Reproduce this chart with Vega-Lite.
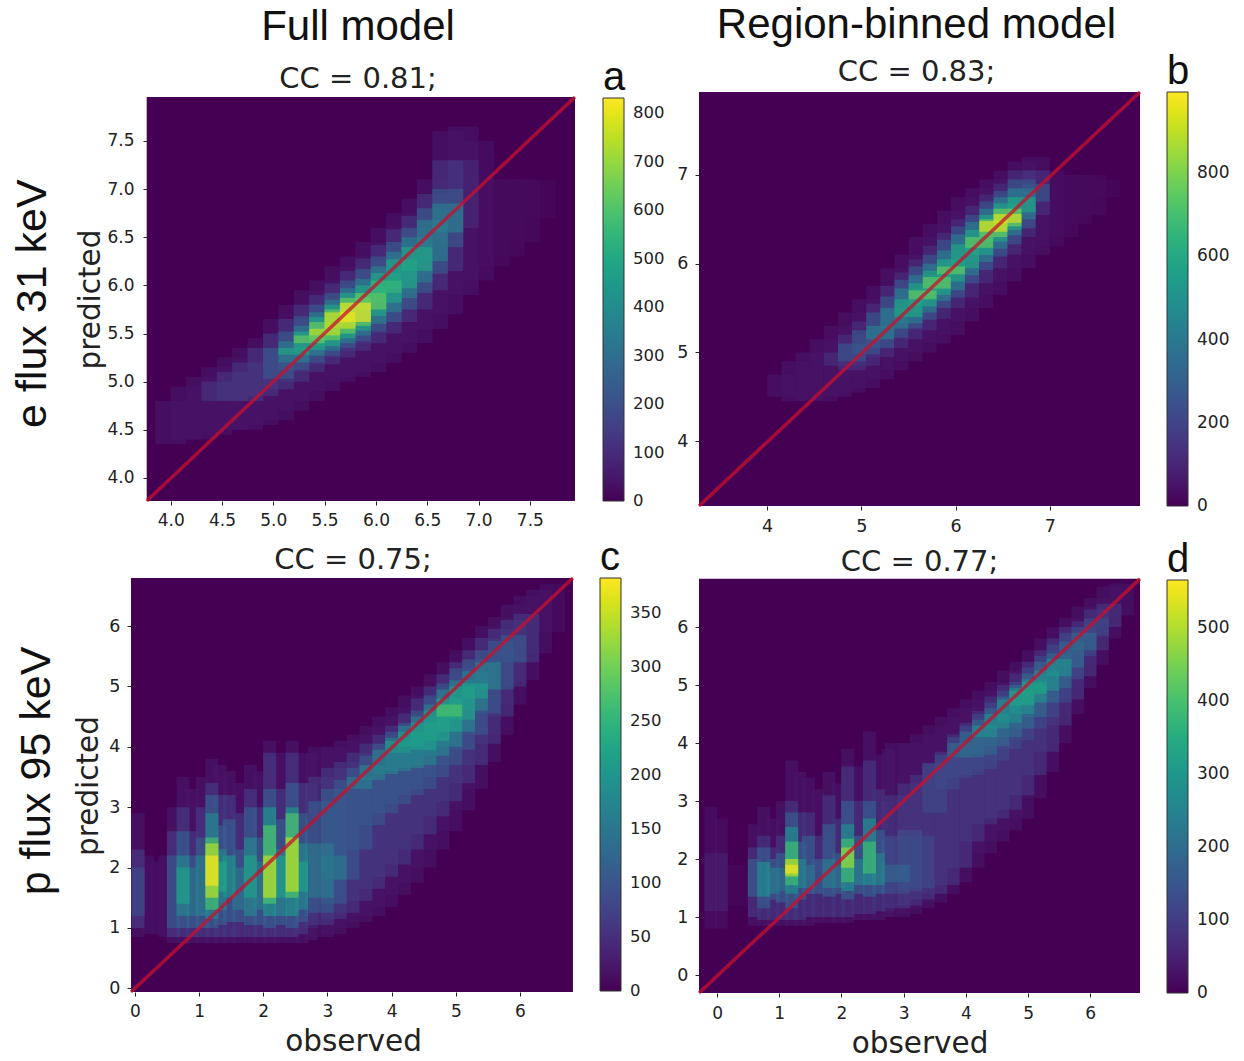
{"$schema":"https://vega.github.io/schema/vega-lite/v6.json","autosize":{"type":"none"},"padding":{"left":131,"top":92,"right":1113,"bottom":969},"background":"white","bounds":"flush","columns":2,"spacing":{"column":124,"row":72},"resolve":{"scale":{"color":"independent","x":"independent","y":"independent"}},"config":{"view":{"stroke":null},"font":"DejaVu Sans","axis":{"grid":false,"domain":false,"tickColor":"#222","tickSize":4,"labelColor":"#222","titleColor":"#222","labelFont":"DejaVu Sans","titleFont":"DejaVu Sans","titleFontWeight":"normal","titleFontSize":29.5,"labelOverlap":false},"legend":{"labelFont":"DejaVu Sans","labelColor":"#222","titleFont":"Liberation Sans","titleFontWeight":"normal","titleColor":"#111","titleFontSize":40,"titlePadding":0,"gradientStrokeColor":"#333","gradientStrokeWidth":1,"gradientThickness":21,"labelOverlap":false,"orient":"none"},"title":{"font":"Liberation Sans","fontWeight":"normal","color":"#111","subtitleFont":"DejaVu Sans","subtitleColor":"#222","anchor":"middle"}},"datasets":{
"a":[
{"x":4.0,"y":4.35,"t":4.8,"v":45},{"x":4.15,"y":4.4,"t":4.95,"v":45},{"x":4.3,"y":4.4,"t":5.05,"v":45},{"x":4.45,"y":4.45,"t":5.15,"v":45},{"x":4.6,"y":4.5,"t":5.25,"v":45},{"x":4.75,"y":4.5,"t":5.35,"v":45},{"x":4.9,"y":4.55,"t":5.45,"v":45},{"x":5.05,"y":4.6,"t":5.65,"v":45},{"x":5.2,"y":4.7,"t":5.8,"v":45},{"x":5.35,"y":4.8,"t":5.95,"v":45},{"x":5.5,"y":4.9,"t":6.05,"v":45},{"x":5.65,"y":5.0,"t":6.2,"v":45},{"x":5.8,"y":5.05,"t":6.3,"v":45},{"x":5.95,"y":5.1,"t":6.45,"v":45},{"x":6.1,"y":5.2,"t":6.6,"v":45},{"x":6.25,"y":5.3,"t":6.75,"v":45},{"x":6.4,"y":5.4,"t":6.9,"v":45},{"x":6.55,"y":5.55,"t":7.1,"v":45},{"x":6.7,"y":5.7,"t":7.6,"v":45},{"x":6.85,"y":5.9,"t":7.65,"v":45},{"x":7.0,"y":6.05,"t":7.5,"v":35},{"x":7.15,"y":6.2,"t":7.1,"v":25},{"x":7.3,"y":6.3,"t":7.1,"v":25},{"x":7.45,"y":6.45,"t":7.1,"v":25},{"x":7.6,"y":6.7,"t":7.1,"v":15},
{"x":4.45,"y":4.8,"t":5.0,"v":125},{"x":4.6,"y":4.8,"t":5.1,"v":125},{"x":4.75,"y":4.8,"t":5.2,"v":125},{"x":4.9,"y":4.85,"t":5.35,"v":125},{"x":5.05,"y":4.92,"t":5.5,"v":125},{"x":5.2,"y":5.0,"t":5.65,"v":125},{"x":5.35,"y":5.1,"t":5.8,"v":125},{"x":5.5,"y":5.18,"t":5.9,"v":125},{"x":5.65,"y":5.25,"t":6.02,"v":125},{"x":5.8,"y":5.32,"t":6.15,"v":125},{"x":5.95,"y":5.4,"t":6.28,"v":125},{"x":6.1,"y":5.5,"t":6.42,"v":125},{"x":6.25,"y":5.62,"t":6.58,"v":125},{"x":6.4,"y":5.75,"t":6.72,"v":125},{"x":6.55,"y":5.95,"t":6.95,"v":125},{"x":6.7,"y":6.15,"t":7.3,"v":125},{"x":6.85,"y":6.6,"t":7.3,"v":100},
{"x":5.05,"y":5.03,"t":5.35,"v":230},{"x":5.2,"y":5.12,"t":5.52,"v":230},{"x":5.35,"y":5.2,"t":5.68,"v":230},{"x":5.5,"y":5.27,"t":5.8,"v":230},{"x":5.65,"y":5.35,"t":5.92,"v":230},{"x":5.8,"y":5.42,"t":6.05,"v":230},{"x":5.95,"y":5.52,"t":6.17,"v":230},{"x":6.1,"y":5.62,"t":6.3,"v":230},{"x":6.25,"y":5.75,"t":6.45,"v":230},{"x":6.4,"y":5.92,"t":6.6,"v":230},{"x":6.55,"y":6.12,"t":6.8,"v":230},{"x":6.7,"y":6.4,"t":7.0,"v":230},
{"x":5.2,"y":5.2,"t":5.42,"v":350},{"x":5.35,"y":5.27,"t":5.58,"v":350},{"x":5.5,"y":5.32,"t":5.72,"v":350},{"x":5.65,"y":5.4,"t":5.85,"v":350},{"x":5.8,"y":5.48,"t":5.97,"v":350},{"x":5.95,"y":5.6,"t":6.07,"v":350},{"x":6.1,"y":5.72,"t":6.2,"v":350},{"x":6.25,"y":5.87,"t":6.35,"v":350},{"x":6.4,"y":6.03,"t":6.5,"v":350},{"x":6.55,"y":6.25,"t":6.68,"v":350},{"x":6.7,"y":6.55,"t":6.85,"v":350},
{"x":5.2,"y":5.28,"t":5.35,"v":490},{"x":5.35,"y":5.33,"t":5.52,"v":490},{"x":5.5,"y":5.37,"t":5.67,"v":490},{"x":5.65,"y":5.45,"t":5.8,"v":490},{"x":5.8,"y":5.53,"t":5.92,"v":490},{"x":5.95,"y":5.68,"t":6.0,"v":490},{"x":6.1,"y":5.82,"t":6.13,"v":490},{"x":6.25,"y":5.97,"t":6.27,"v":490},{"x":6.4,"y":6.15,"t":6.4,"v":490},
{"x":5.35,"y":5.4,"t":5.48,"v":640},{"x":5.5,"y":5.43,"t":5.62,"v":640},{"x":5.65,"y":5.5,"t":5.75,"v":640},{"x":5.8,"y":5.58,"t":5.87,"v":640},{"x":5.95,"y":5.75,"t":5.92,"v":640},{"x":6.1,"y":5.92,"t":6.05,"v":560},
{"x":5.5,"y":5.48,"t":5.55,"v":750},{"x":5.65,"y":5.55,"t":5.72,"v":780},{"x":5.8,"y":5.62,"t":5.82,"v":820}],
"b":[
{"x":4.15,"y":4.5,"t":4.75,"v":50},{"x":4.3,"y":4.45,"t":4.9,"v":50},{"x":4.45,"y":4.45,"t":5.0,"v":50},{"x":4.6,"y":4.45,"t":5.15,"v":50},{"x":4.75,"y":4.5,"t":5.3,"v":50},{"x":4.9,"y":4.55,"t":5.45,"v":50},{"x":5.05,"y":4.6,"t":5.6,"v":50},{"x":5.2,"y":4.7,"t":5.75,"v":50},{"x":5.35,"y":4.8,"t":5.95,"v":50},{"x":5.5,"y":4.9,"t":6.1,"v":50},{"x":5.65,"y":5.0,"t":6.3,"v":50},{"x":5.8,"y":5.1,"t":6.45,"v":50},{"x":5.95,"y":5.2,"t":6.6,"v":50},{"x":6.1,"y":5.35,"t":6.75,"v":50},{"x":6.25,"y":5.5,"t":6.85,"v":50},{"x":6.4,"y":5.65,"t":6.95,"v":50},{"x":6.55,"y":5.8,"t":7.05,"v":50},{"x":6.7,"y":5.95,"t":7.15,"v":50},{"x":6.85,"y":6.1,"t":7.2,"v":50},{"x":7.0,"y":6.2,"t":7.05,"v":35},{"x":7.15,"y":6.3,"t":7.0,"v":28},{"x":7.3,"y":6.45,"t":7.0,"v":28},{"x":7.45,"y":6.55,"t":7.0,"v":28},{"x":7.6,"y":6.75,"t":6.95,"v":18},
{"x":4.75,"y":4.85,"t":5.0,"v":140},{"x":4.9,"y":4.8,"t":5.2,"v":140},{"x":5.05,"y":4.85,"t":5.35,"v":140},{"x":5.2,"y":4.95,"t":5.55,"v":140},{"x":5.35,"y":5.05,"t":5.75,"v":140},{"x":5.5,"y":5.15,"t":5.9,"v":140},{"x":5.65,"y":5.25,"t":6.05,"v":140},{"x":5.8,"y":5.38,"t":6.2,"v":140},{"x":5.95,"y":5.5,"t":6.35,"v":140},{"x":6.1,"y":5.62,"t":6.5,"v":140},{"x":6.25,"y":5.78,"t":6.65,"v":140},{"x":6.4,"y":5.95,"t":6.78,"v":140},{"x":6.55,"y":6.1,"t":6.9,"v":140},{"x":6.7,"y":6.3,"t":7.05,"v":140},{"x":6.85,"y":6.55,"t":7.05,"v":140},
{"x":4.9,"y":4.9,"t":5.1,"v":270},{"x":5.05,"y":4.98,"t":5.25,"v":270},{"x":5.2,"y":5.05,"t":5.45,"v":270},{"x":5.35,"y":5.17,"t":5.63,"v":270},{"x":5.5,"y":5.27,"t":5.82,"v":270},{"x":5.65,"y":5.37,"t":5.97,"v":270},{"x":5.8,"y":5.5,"t":6.1,"v":270},{"x":5.95,"y":5.62,"t":6.27,"v":270},{"x":6.1,"y":5.78,"t":6.42,"v":270},{"x":6.25,"y":5.93,"t":6.55,"v":270},{"x":6.4,"y":6.08,"t":6.7,"v":270},{"x":6.55,"y":6.22,"t":6.82,"v":270},{"x":6.7,"y":6.4,"t":6.95,"v":270},{"x":6.85,"y":6.7,"t":6.9,"v":270},
{"x":5.2,"y":5.15,"t":5.3,"v":420},{"x":5.35,"y":5.27,"t":5.5,"v":420},{"x":5.5,"y":5.33,"t":5.72,"v":420},{"x":5.65,"y":5.45,"t":5.87,"v":420},{"x":5.8,"y":5.58,"t":6.0,"v":420},{"x":5.95,"y":5.7,"t":6.15,"v":420},{"x":6.1,"y":5.87,"t":6.33,"v":420},{"x":6.25,"y":6.02,"t":6.47,"v":420},{"x":6.4,"y":6.17,"t":6.62,"v":420},{"x":6.55,"y":6.32,"t":6.75,"v":420},{"x":6.7,"y":6.5,"t":6.85,"v":420},
{"x":5.5,"y":5.4,"t":5.6,"v":590},{"x":5.65,"y":5.52,"t":5.78,"v":590},{"x":5.8,"y":5.65,"t":5.92,"v":590},{"x":5.95,"y":5.8,"t":6.05,"v":590},{"x":6.1,"y":5.95,"t":6.22,"v":590},{"x":6.25,"y":6.1,"t":6.38,"v":590},{"x":6.4,"y":6.25,"t":6.55,"v":590},{"x":6.55,"y":6.38,"t":6.68,"v":590},{"x":6.7,"y":6.58,"t":6.75,"v":590},
{"x":5.65,"y":5.6,"t":5.7,"v":760},{"x":5.8,"y":5.72,"t":5.85,"v":760},{"x":5.95,"y":5.88,"t":5.97,"v":760},{"x":6.25,"y":6.18,"t":6.3,"v":760},{"x":6.4,"y":6.3,"t":6.5,"v":780},{"x":6.55,"y":6.42,"t":6.62,"v":780},
{"x":6.4,"y":6.36,"t":6.48,"v":950},{"x":6.55,"y":6.46,"t":6.56,"v":950}],
"cl":[
{"x":0.05,"y":0.85,"t":2.9,"v":20},{"x":0.05,"y":1.0,"t":2.3,"v":60},{"x":0.05,"y":1.2,"t":2.0,"v":85},{"x":0.2,"y":0.9,"t":2.2,"v":18},{"x":0.35,"y":0.9,"t":2.1,"v":18},{"x":0.47,"y":0.85,"t":2.2,"v":18},
{"x":0.6,"y":0.75,"t":3.0,"v":20},{"x":0.6,"y":0.85,"t":2.6,"v":60},{"x":0.6,"y":1.0,"t":2.2,"v":100},
{"x":0.75,"y":0.75,"t":3.5,"v":20},{"x":0.75,"y":0.85,"t":3.0,"v":60},{"x":0.75,"y":1.0,"t":2.6,"v":110},{"x":0.75,"y":1.2,"t":2.2,"v":170},{"x":0.75,"y":1.4,"t":2.0,"v":215},
{"x":0.9,"y":0.75,"t":3.3,"v":20},{"x":0.9,"y":0.85,"t":2.6,"v":60},{"x":0.9,"y":1.0,"t":2.2,"v":110},{"x":0.9,"y":1.2,"t":2.0,"v":145},
{"x":1.05,"y":0.75,"t":3.5,"v":20},{"x":1.05,"y":0.85,"t":3.0,"v":60},{"x":1.05,"y":1.0,"t":2.5,"v":110},{"x":1.05,"y":1.2,"t":2.2,"v":160},
{"x":1.2,"y":0.75,"t":3.8,"v":20},{"x":1.2,"y":0.85,"t":3.4,"v":60},{"x":1.2,"y":1.0,"t":3.2,"v":110},{"x":1.2,"y":1.15,"t":2.9,"v":170},{"x":1.2,"y":1.3,"t":2.5,"v":270},{"x":1.2,"y":1.5,"t":2.4,"v":340},{"x":1.2,"y":1.7,"t":2.2,"v":375},
{"x":1.33,"y":0.75,"t":3.7,"v":20},{"x":1.33,"y":0.85,"t":3.2,"v":60},{"x":1.33,"y":1.05,"t":2.7,"v":110},{"x":1.33,"y":1.3,"t":2.3,"v":170},{"x":1.33,"y":1.6,"t":2.1,"v":225},
{"x":1.47,"y":0.75,"t":3.6,"v":20},{"x":1.47,"y":0.85,"t":3.2,"v":60},{"x":1.47,"y":1.1,"t":2.8,"v":110},{"x":1.47,"y":1.5,"t":2.2,"v":195},
{"x":1.62,"y":0.75,"t":3.4,"v":20},{"x":1.62,"y":0.85,"t":2.9,"v":60},{"x":1.62,"y":1.1,"t":2.3,"v":110},{"x":1.62,"y":1.3,"t":2.0,"v":145},
{"x":1.8,"y":0.75,"t":3.7,"v":20},{"x":1.8,"y":0.85,"t":3.3,"v":60},{"x":1.8,"y":1.05,"t":3.0,"v":110},{"x":1.8,"y":1.2,"t":2.5,"v":170},{"x":1.8,"y":1.5,"t":2.2,"v":215},
{"x":1.95,"y":0.75,"t":3.6,"v":20},{"x":1.95,"y":0.85,"t":3.0,"v":60},{"x":1.95,"y":1.05,"t":2.5,"v":110},{"x":1.95,"y":1.3,"t":2.1,"v":155},
{"x":2.1,"y":0.75,"t":4.1,"v":20},{"x":2.1,"y":0.85,"t":3.9,"v":60},{"x":2.1,"y":1.0,"t":3.3,"v":110},{"x":2.1,"y":1.2,"t":3.0,"v":195},{"x":2.1,"y":1.4,"t":2.7,"v":275},{"x":2.1,"y":1.5,"t":2.2,"v":345},
{"x":2.27,"y":0.75,"t":3.9,"v":20},{"x":2.27,"y":0.85,"t":3.3,"v":60},{"x":2.27,"y":1.05,"t":2.8,"v":110},{"x":2.27,"y":1.2,"t":2.3,"v":170},{"x":2.27,"y":1.5,"t":2.2,"v":215},
{"x":2.45,"y":0.75,"t":4.1,"v":20},{"x":2.45,"y":0.85,"t":3.9,"v":60},{"x":2.45,"y":1.0,"t":3.4,"v":110},{"x":2.45,"y":1.2,"t":3.0,"v":195},{"x":2.45,"y":1.5,"t":2.9,"v":275},{"x":2.45,"y":1.6,"t":2.5,"v":345},
{"x":2.6,"y":0.75,"t":3.9,"v":20},{"x":2.6,"y":0.9,"t":3.4,"v":60},{"x":2.6,"y":1.1,"t":2.9,"v":110},{"x":2.6,"y":1.3,"t":2.4,"v":170},{"x":2.6,"y":1.6,"t":2.1,"v":215},
{"x":2.75,"y":0.8,"t":3.9,"v":20},{"x":2.75,"y":1.0,"t":3.4,"v":60},{"x":2.75,"y":1.2,"t":2.8,"v":110},{"x":2.75,"y":1.4,"t":2.3,"v":155}],
"cr":[
{"x":2.9,"y":0.85,"t":4.0,"v":20},{"x":2.9,"y":1.05,"t":3.5,"v":60},{"x":2.9,"y":1.25,"t":3.1,"v":110},{"x":2.9,"y":1.5,"t":2.4,"v":155},
{"x":3.1,"y":0.9,"t":4.0,"v":20},{"x":3.1,"y":1.15,"t":3.65,"v":60},{"x":3.1,"y":1.4,"t":3.3,"v":110},{"x":3.1,"y":1.8,"t":2.2,"v":150},
{"x":3.3,"y":1.0,"t":4.1,"v":20},{"x":3.3,"y":1.25,"t":3.75,"v":60},{"x":3.3,"y":1.8,"t":3.45,"v":105},
{"x":3.5,"y":1.1,"t":4.2,"v":20},{"x":3.5,"y":1.45,"t":3.9,"v":60},{"x":3.5,"y":2.3,"t":3.65,"v":105},{"x":3.5,"y":3.3,"t":3.5,"v":160},
{"x":3.7,"y":1.2,"t":4.35,"v":20},{"x":3.7,"y":1.65,"t":4.05,"v":60},{"x":3.7,"y":2.7,"t":3.85,"v":105},{"x":3.7,"y":3.45,"t":3.7,"v":165},
{"x":3.9,"y":1.35,"t":4.5,"v":20},{"x":3.9,"y":1.85,"t":4.2,"v":60},{"x":3.9,"y":2.9,"t":4.05,"v":105},{"x":3.9,"y":3.55,"t":3.95,"v":165},
{"x":4.1,"y":1.55,"t":4.65,"v":20},{"x":4.1,"y":2.05,"t":4.35,"v":60},{"x":4.1,"y":3.05,"t":4.25,"v":105},{"x":4.1,"y":3.6,"t":4.15,"v":165},{"x":4.1,"y":3.9,"t":4.1,"v":205},
{"x":4.3,"y":1.75,"t":4.85,"v":20},{"x":4.3,"y":2.3,"t":4.55,"v":60},{"x":4.3,"y":3.2,"t":4.4,"v":105},{"x":4.3,"y":3.65,"t":4.35,"v":165},{"x":4.3,"y":4.0,"t":4.25,"v":215},
{"x":4.5,"y":2.0,"t":5.0,"v":20},{"x":4.5,"y":2.55,"t":4.8,"v":60},{"x":4.5,"y":3.3,"t":4.6,"v":105},{"x":4.5,"y":3.7,"t":4.5,"v":165},{"x":4.5,"y":3.95,"t":4.4,"v":215},
{"x":4.7,"y":2.3,"t":5.2,"v":20},{"x":4.7,"y":2.85,"t":5.0,"v":60},{"x":4.7,"y":3.5,"t":4.85,"v":105},{"x":4.7,"y":3.85,"t":4.7,"v":165},{"x":4.7,"y":4.1,"t":4.6,"v":220},
{"x":4.9,"y":2.6,"t":5.4,"v":20},{"x":4.9,"y":3.1,"t":5.2,"v":60},{"x":4.9,"y":3.7,"t":5.05,"v":105},{"x":4.9,"y":4.0,"t":4.95,"v":165},{"x":4.9,"y":4.25,"t":4.8,"v":220},{"x":4.9,"y":4.5,"t":4.7,"v":275},
{"x":5.1,"y":2.95,"t":5.6,"v":20},{"x":5.1,"y":3.4,"t":5.4,"v":60},{"x":5.1,"y":3.95,"t":5.3,"v":105},{"x":5.1,"y":4.25,"t":5.1,"v":165},{"x":5.1,"y":4.45,"t":5.0,"v":220},
{"x":5.3,"y":3.3,"t":5.8,"v":20},{"x":5.3,"y":3.7,"t":5.6,"v":60},{"x":5.3,"y":4.2,"t":5.45,"v":105},{"x":5.3,"y":4.6,"t":5.25,"v":165},{"x":5.3,"y":4.8,"t":5.05,"v":215},
{"x":5.5,"y":3.75,"t":6.0,"v":20},{"x":5.5,"y":4.05,"t":5.8,"v":60},{"x":5.5,"y":4.55,"t":5.6,"v":105},{"x":5.5,"y":4.95,"t":5.4,"v":165},
{"x":5.7,"y":4.2,"t":6.15,"v":20},{"x":5.7,"y":4.5,"t":5.95,"v":60},{"x":5.7,"y":4.95,"t":5.75,"v":105},
{"x":5.9,"y":4.7,"t":6.35,"v":20},{"x":5.9,"y":5.0,"t":6.1,"v":60},{"x":5.9,"y":5.4,"t":5.85,"v":105},
{"x":6.1,"y":5.1,"t":6.5,"v":20},{"x":6.1,"y":5.4,"t":6.2,"v":60},{"x":6.3,"y":5.55,"t":6.6,"v":20},{"x":6.5,"y":5.9,"t":6.7,"v":15}],
"dl":[
{"x":-0.1,"y":0.8,"t":2.9,"v":20},{"x":-0.1,"y":1.1,"t":2.1,"v":45},{"x":0.07,"y":0.8,"t":2.7,"v":20},{"x":0.07,"y":1.1,"t":2.1,"v":45},{"x":0.22,"y":1.2,"t":1.9,"v":12},{"x":0.4,"y":1.2,"t":1.9,"v":12},
{"x":0.6,"y":0.85,"t":2.6,"v":30},{"x":0.6,"y":1.0,"t":2.2,"v":85},{"x":0.6,"y":1.35,"t":2.0,"v":165},
{"x":0.75,"y":0.85,"t":2.9,"v":30},{"x":0.75,"y":0.95,"t":2.4,"v":85},{"x":0.75,"y":1.15,"t":2.2,"v":165},{"x":0.75,"y":1.35,"t":1.95,"v":270},
{"x":0.9,"y":0.85,"t":2.7,"v":30},{"x":0.9,"y":0.95,"t":2.2,"v":85},{"x":0.9,"y":1.3,"t":2.0,"v":165},{"x":0.9,"y":1.4,"t":1.85,"v":230},
{"x":1.05,"y":0.85,"t":3.0,"v":30},{"x":1.05,"y":0.95,"t":2.4,"v":85},{"x":1.05,"y":1.25,"t":2.1,"v":165},{"x":1.05,"y":1.45,"t":1.85,"v":200},
{"x":1.2,"y":0.85,"t":3.7,"v":30},{"x":1.2,"y":0.95,"t":3.0,"v":85},{"x":1.2,"y":1.15,"t":2.8,"v":165},{"x":1.2,"y":1.4,"t":2.55,"v":270},{"x":1.2,"y":1.55,"t":2.3,"v":390},{"x":1.2,"y":1.7,"t":2.0,"v":510},{"x":1.2,"y":1.75,"t":1.9,"v":555},
{"x":1.33,"y":0.85,"t":3.5,"v":30},{"x":1.33,"y":0.95,"t":2.8,"v":85},{"x":1.33,"y":1.3,"t":2.3,"v":165},{"x":1.33,"y":1.5,"t":2.0,"v":245},
{"x":1.47,"y":0.85,"t":3.4,"v":30},{"x":1.47,"y":1.0,"t":2.8,"v":85},{"x":1.47,"y":1.4,"t":2.4,"v":165},{"x":1.47,"y":1.5,"t":1.9,"v":210},
{"x":1.62,"y":0.9,"t":3.2,"v":30},{"x":1.62,"y":1.0,"t":2.4,"v":85},{"x":1.62,"y":1.4,"t":2.0,"v":165},
{"x":1.8,"y":0.9,"t":3.5,"v":30},{"x":1.8,"y":1.0,"t":3.1,"v":85},{"x":1.8,"y":1.35,"t":2.6,"v":165},{"x":1.8,"y":1.5,"t":2.0,"v":230},
{"x":1.95,"y":0.9,"t":3.3,"v":30},{"x":1.95,"y":1.0,"t":2.7,"v":85},{"x":1.95,"y":1.4,"t":2.1,"v":165},{"x":1.95,"y":1.5,"t":1.9,"v":200},
{"x":2.1,"y":0.9,"t":3.9,"v":30},{"x":2.1,"y":1.0,"t":3.6,"v":85},{"x":2.1,"y":1.3,"t":3.0,"v":165},{"x":2.1,"y":1.45,"t":2.6,"v":270},{"x":2.1,"y":1.6,"t":2.35,"v":390},{"x":2.1,"y":1.85,"t":2.2,"v":480},
{"x":2.27,"y":0.95,"t":3.6,"v":30},{"x":2.27,"y":1.05,"t":3.0,"v":85},{"x":2.27,"y":1.4,"t":2.4,"v":165},{"x":2.27,"y":1.55,"t":2.0,"v":245},
{"x":2.45,"y":0.95,"t":4.2,"v":30},{"x":2.45,"y":1.05,"t":3.7,"v":85},{"x":2.45,"y":1.35,"t":3.0,"v":165},{"x":2.45,"y":1.55,"t":2.7,"v":270},{"x":2.45,"y":1.75,"t":2.3,"v":390},
{"x":2.6,"y":0.95,"t":3.8,"v":30},{"x":2.6,"y":1.1,"t":3.2,"v":85},{"x":2.6,"y":1.4,"t":2.5,"v":165},{"x":2.6,"y":1.55,"t":2.1,"v":245},
{"x":2.75,"y":1.0,"t":3.9,"v":30},{"x":2.75,"y":1.1,"t":3.0,"v":85},{"x":2.75,"y":1.4,"t":2.35,"v":165},{"x":2.75,"y":1.6,"t":1.95,"v":245}],
"dr":[
{"x":2.9,"y":1.0,"t":4.0,"v":30},{"x":2.9,"y":1.15,"t":3.1,"v":85},{"x":2.9,"y":1.4,"t":2.4,"v":130},{"x":2.9,"y":1.6,"t":1.9,"v":190},
{"x":3.1,"y":1.05,"t":4.0,"v":30},{"x":3.1,"y":1.2,"t":3.3,"v":85},{"x":3.1,"y":1.45,"t":2.5,"v":130},
{"x":3.3,"y":1.15,"t":4.15,"v":30},{"x":3.3,"y":1.3,"t":3.45,"v":85},{"x":3.3,"y":1.5,"t":2.4,"v":125},
{"x":3.5,"y":1.25,"t":4.3,"v":30},{"x":3.5,"y":1.4,"t":3.65,"v":85},{"x":3.5,"y":2.8,"t":3.65,"v":125},
{"x":3.7,"y":1.4,"t":4.45,"v":30},{"x":3.7,"y":1.55,"t":3.85,"v":85},{"x":3.7,"y":3.2,"t":3.8,"v":125},
{"x":3.9,"y":1.6,"t":4.6,"v":30},{"x":3.9,"y":1.85,"t":4.15,"v":85},{"x":3.9,"y":3.4,"t":4.1,"v":125},{"x":3.9,"y":3.75,"t":4.0,"v":190},
{"x":4.1,"y":1.85,"t":4.75,"v":30},{"x":4.1,"y":2.3,"t":4.35,"v":85},{"x":4.1,"y":3.45,"t":4.3,"v":125},{"x":4.1,"y":3.75,"t":4.2,"v":190},
{"x":4.3,"y":2.1,"t":4.9,"v":30},{"x":4.3,"y":2.6,"t":4.55,"v":85},{"x":4.3,"y":3.55,"t":4.5,"v":125},{"x":4.3,"y":3.8,"t":4.4,"v":190},{"x":4.3,"y":4.1,"t":4.3,"v":280},
{"x":4.5,"y":2.3,"t":5.05,"v":30},{"x":4.5,"y":2.7,"t":4.8,"v":85},{"x":4.5,"y":3.7,"t":4.7,"v":125},{"x":4.5,"y":3.95,"t":4.6,"v":190},{"x":4.5,"y":4.25,"t":4.5,"v":280},
{"x":4.7,"y":2.5,"t":5.25,"v":30},{"x":4.7,"y":2.85,"t":5.0,"v":85},{"x":4.7,"y":3.9,"t":4.9,"v":125},{"x":4.7,"y":4.1,"t":4.8,"v":190},{"x":4.7,"y":4.35,"t":4.75,"v":280},
{"x":4.9,"y":2.7,"t":5.4,"v":30},{"x":4.9,"y":3.1,"t":5.2,"v":85},{"x":4.9,"y":4.05,"t":5.05,"v":125},{"x":4.9,"y":4.25,"t":5.0,"v":190},{"x":4.9,"y":4.5,"t":4.95,"v":280},{"x":4.9,"y":4.65,"t":4.9,"v":330},
{"x":5.1,"y":3.05,"t":5.6,"v":30},{"x":5.1,"y":3.45,"t":5.4,"v":85},{"x":5.1,"y":4.25,"t":5.3,"v":125},{"x":5.1,"y":4.45,"t":5.2,"v":190},{"x":5.1,"y":4.7,"t":5.1,"v":280},{"x":5.1,"y":4.85,"t":5.05,"v":330},
{"x":5.3,"y":3.5,"t":5.8,"v":30},{"x":5.3,"y":3.85,"t":5.6,"v":85},{"x":5.3,"y":4.45,"t":5.5,"v":125},{"x":5.3,"y":4.7,"t":5.4,"v":190},{"x":5.3,"y":4.9,"t":5.25,"v":280},
{"x":5.5,"y":4.0,"t":6.0,"v":30},{"x":5.5,"y":4.3,"t":5.8,"v":85},{"x":5.5,"y":4.7,"t":5.7,"v":125},{"x":5.5,"y":4.95,"t":5.55,"v":190},{"x":5.5,"y":5.15,"t":5.45,"v":280},
{"x":5.7,"y":4.5,"t":6.15,"v":30},{"x":5.7,"y":4.75,"t":6.0,"v":85},{"x":5.7,"y":5.1,"t":5.9,"v":125},{"x":5.7,"y":5.3,"t":5.75,"v":190},
{"x":5.9,"y":4.95,"t":6.35,"v":30},{"x":5.9,"y":5.15,"t":6.1,"v":85},{"x":5.9,"y":5.5,"t":6.0,"v":125},{"x":5.9,"y":5.6,"t":5.9,"v":190},
{"x":6.1,"y":5.35,"t":6.5,"v":30},{"x":6.1,"y":5.6,"t":6.3,"v":85},{"x":6.1,"y":5.85,"t":6.15,"v":125},
{"x":6.3,"y":5.8,"t":6.7,"v":30},{"x":6.3,"y":6.0,"t":6.4,"v":85},{"x":6.5,"y":6.2,"t":6.75,"v":30}]
},
"concat":[
{"width":444,"height":414,"title":{"text":"Full model","subtitle":"CC = 0.81;","fontSize":42,"subtitleFontSize":29,"subtitlePadding":16,"offset":-37,"dx":5},
"encoding":{"x":{"field":"x","type":"quantitative","title":null,"scale":{"domain":[3.613,7.94],"nice":false,"zero":false},"axis":{"values":[4,4.5,5,5.5,6,6.5,7,7.5],"format":".1f","offset":-5,"labelFontSize":17,"labelPadding":7}},"y":{"field":"y","type":"quantitative","title":"predicted","scale":{"domain":[3.708,8.009],"nice":false,"zero":false},"axis":{"values":[4,4.5,5,5.5,6,6.5,7,7.5],"format":".1f","offset":-16,"labelFontSize":17,"labelPadding":9,"titlePadding":1}}},
"layer":[
{"data":{"values":[{"x":3.766,"x2":7.94,"y":3.76,"t":7.957}]},"mark":{"type":"rect","color":"#440154"},"encoding":{"x2":{"field":"x2"},"y2":{"field":"t"}}},
{"data":{"name":"a"},"mark":{"type":"rect","width":31,"fillOpacity":0.65},"encoding":{"y2":{"field":"t"},"order":{"field":"v"},"color":{"field":"v","type":"quantitative","scale":{"scheme":"viridis","domain":[0,831]},"legend":{"title":"a","legendX":472,"legendY":-34,"gradientLength":403,"labelOffset":9,"values":[0.01,100,200,300,400,500,600,700,800],"format":".0f","labelFontSize":16.5}}}},
{"data":{"values":[{"x":3.766,"y":3.76},{"x":7.94,"y":7.957}]},"mark":{"type":"line","color":"#c8102e","opacity":0.75,"strokeWidth":3.5},"encoding":{}},
{"data":{"values":[{"x":2.655,"y":5.81,"s":"e flux 31 keV"}]},"mark":{"type":"text","angle":270,"fontSize":43,"font":"Liberation Sans","color":"#111"},"encoding":{"text":{"field":"s"}}}
]},
{"width":441,"height":414,"title":{"text":"Region-binned model","subtitle":"CC = 0.83;","fontSize":42,"subtitleFontSize":29,"subtitlePadding":11,"offset":-36,"dx":-3},
"encoding":{"x":{"field":"x","type":"quantitative","title":null,"scale":{"domain":[3.279,7.955],"nice":false,"zero":false},"axis":{"values":[4,5,6,7],"labelFontSize":17.5,"labelPadding":7}},"y":{"field":"y","type":"quantitative","title":null,"scale":{"domain":[3.27,7.935],"nice":false,"zero":false},"axis":{"values":[4,5,6,7],"labelFontSize":17.5,"labelPadding":7}}},
"layer":[
{"data":{"values":[{"x":3.279,"x2":7.955,"y":3.27,"t":7.935}]},"mark":{"type":"rect","color":"#440154"},"encoding":{"x2":{"field":"x2"},"y2":{"field":"t"}}},
{"data":{"name":"b"},"mark":{"type":"rect","width":28,"fillOpacity":0.65},"encoding":{"y2":{"field":"t"},"order":{"field":"v"},"color":{"field":"v","type":"quantitative","scale":{"scheme":"viridis","domain":[0,995]},"legend":{"title":"b","legendX":468,"legendY":-40,"gradientLength":414,"labelOffset":9,"values":[0.01,200,400,600,800],"format":".0f","labelFontSize":17}}}},
{"data":{"values":[{"x":3.279,"y":3.27},{"x":7.955,"y":7.935}]},"mark":{"type":"line","color":"#c8102e","opacity":0.75,"strokeWidth":3.5},"encoding":{}}
]},
{"width":444,"height":415,"title":{"text":"CC = 0.75;","font":"DejaVu Sans","fontSize":29,"offset":-37,"color":"#222"},
"encoding":{"x":{"field":"x","type":"quantitative","title":"observed","scale":{"domain":[-0.06,6.857],"nice":false,"zero":false},"axis":{"values":[0,1,2,3,4,5,6],"offset":-1,"labelFontSize":17,"labelPadding":7,"titlePadding":8}},"y":{"field":"y","type":"quantitative","title":"predicted","scale":{"domain":[-0.077,6.795],"nice":false,"zero":false},"axis":{"values":[0,1,2,3,4,5,6],"labelFontSize":17.5,"labelPadding":7,"titlePadding":5}}},
"layer":[
{"data":{"values":[{"x":-0.06,"x2":6.825,"y":-0.06,"t":6.795}]},"mark":{"type":"rect","color":"#440154"},"encoding":{"x2":{"field":"x2"},"y2":{"field":"t"}}},
{"data":{"name":"cl"},"mark":{"type":"rect","width":13,"fillOpacity":0.7},"encoding":{"y2":{"field":"t"},"order":{"field":"v"},"color":{"field":"v","type":"quantitative","scale":{"scheme":"viridis","domain":[0,382]},"legend":{"title":"c","legendX":469,"legendY":-40,"gradientLength":413,"labelOffset":9,"values":[0.01,50,100,150,200,250,300,350],"format":".0f","labelFontSize":16.5}}}},
{"data":{"name":"cr"},"mark":{"type":"rect","width":25.7,"fillOpacity":0.65},"encoding":{"y2":{"field":"t"},"order":{"field":"v"},"color":{"field":"v","type":"quantitative"}}},
{"data":{"values":[{"x":-0.06,"y":-0.06},{"x":6.825,"y":6.795}]},"mark":{"type":"line","color":"#c8102e","opacity":0.75,"strokeWidth":3.5},"encoding":{}},
{"data":{"values":[{"x":-1.527,"y":3.6,"s":"p flux 95 keV"}]},"mark":{"type":"text","angle":270,"fontSize":43,"font":"Liberation Sans","color":"#111"},"encoding":{"text":{"field":"s"}}}
]},
{"width":441,"height":415,"title":{"text":"CC = 0.77;","font":"DejaVu Sans","fontSize":29,"offset":-37,"color":"#222"},
"encoding":{"x":{"field":"x","type":"quantitative","title":"observed","scale":{"domain":[-0.29,6.8],"nice":false,"zero":false},"axis":{"values":[0,1,2,3,4,5,6],"labelFontSize":17,"labelPadding":8,"titlePadding":8}},"y":{"field":"y","type":"quantitative","title":null,"scale":{"domain":[-0.31,6.845],"nice":false,"zero":false},"axis":{"values":[0,1,2,3,4,5,6],"labelFontSize":17.5,"labelPadding":7}}},
"layer":[
{"data":{"values":[{"x":-0.29,"x2":6.8,"y":-0.31,"t":6.83}]},"mark":{"type":"rect","color":"#440154"},"encoding":{"x2":{"field":"x2"},"y2":{"field":"t"}}},
{"data":{"name":"dl"},"mark":{"type":"rect","width":13,"fillOpacity":0.7},"encoding":{"y2":{"field":"t"},"order":{"field":"v"},"color":{"field":"v","type":"quantitative","scale":{"scheme":"viridis","domain":[0,566]},"legend":{"title":"d","legendX":468,"legendY":-38,"gradientLength":413,"labelOffset":9,"values":[0.01,100,200,300,400,500],"format":".0f","labelFontSize":17}}}},
{"data":{"name":"dr"},"mark":{"type":"rect","width":24.9,"fillOpacity":0.65},"encoding":{"y2":{"field":"t"},"order":{"field":"v"},"color":{"field":"v","type":"quantitative"}}},
{"data":{"values":[{"x":-0.29,"y":-0.31},{"x":6.8,"y":6.83}]},"mark":{"type":"line","color":"#c8102e","opacity":0.75,"strokeWidth":3.5},"encoding":{}}
]}
]}
